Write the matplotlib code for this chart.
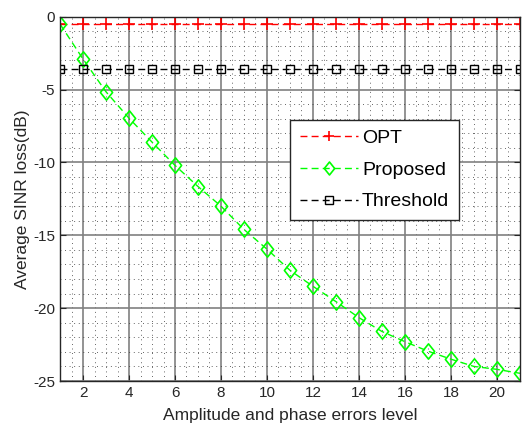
import matplotlib
matplotlib.use("Agg")
import matplotlib.pyplot as plt
from matplotlib.ticker import MultipleLocator, FuncFormatter
from matplotlib.path import Path

plt.rcParams['font.family'] = ['Liberation Sans', 'DejaVu Sans']
plt.rcParams['axes.unicode_minus'] = False

x = list(range(1, 22))
opt = [-0.48] * 21
threshold = [-3.55] * 21
proposed = [-0.5, -2.9, -5.15, -6.96, -8.6, -10.2, -11.65, -13.0, -14.6, -15.95,
            -17.4, -18.5, -19.55, -20.65, -21.6, -22.3, -22.95, -23.5, -24.0, -24.2, -24.47]

xticks = [2, 4, 6, 8, 10, 12, 14, 16, 18, 20]
yticks = [0, -5, -10, -15, -20, -25]

diamond = Path([(0, 1), (0.8, 0), (0, -1), (-0.8, 0), (0, 1)],
               [Path.MOVETO, Path.LINETO, Path.LINETO, Path.LINETO, Path.CLOSEPOLY])

fig = plt.figure(figsize=(5.22, 4.25), dpi=100)
ax = fig.add_axes([0.115, 0.1035, 0.881, 0.857])

ax.plot(x, opt, '--', color='#ff0000', marker='+', markersize=8, markeredgewidth=1.2,
        linewidth=1.0, label='OPT', dashes=(5, 3))
ax.plot(x, proposed, '--', color='#00ff00', marker=diamond, markersize=11, markerfacecolor='none',
        markeredgewidth=1.2, linewidth=1.0, label='Proposed', dashes=(5, 3))
ax.plot(x, threshold, '--', color='black', marker='s', markersize=6, markerfacecolor='none',
        markeredgewidth=1.0, linewidth=1.0, label='Threshold', dashes=(5, 3))

ax.set_xlim(1, 21)
ax.set_ylim(-25, 0)
ax.set_xticks(xticks)
ax.set_yticks(yticks)
ax.xaxis.set_minor_locator(MultipleLocator(0.5))
ax.yaxis.set_minor_locator(MultipleLocator(1))
ax.yaxis.set_major_formatter(FuncFormatter(lambda v, p: '%d' % v))

ax.grid(True, which='major', color='#808080', linestyle='-', linewidth=1.2)
ax.grid(True, which='minor', color='#303030', linestyle=(0, (1, 4.5)), linewidth=0.6)
ax.set_axisbelow(True)

ax.tick_params(which='both', direction='in', top=True, right=True, labelsize=11, colors='#262626')
ax.tick_params(which='minor', length=0)
ax.tick_params(which='major', length=4, labelcolor='#262626')
for s in ax.spines.values():
    s.set_color('#262626')
    s.set_linewidth(1.0)

ax.set_xlabel('Amplitude and phase errors level', fontsize=12.5, color='#262626', labelpad=6)
ax.set_ylabel('Average SINR loss(dB)', fontsize=12.5, color='#262626', labelpad=2)

leg = ax.legend(loc='upper left', bbox_to_anchor=(0.5, 0.717), fontsize=14,
                frameon=True, fancybox=False, edgecolor='#262626', framealpha=1,
                borderaxespad=0, handlelength=3.0, labelspacing=0.72, borderpad=0.5,
                handletextpad=0.2, markerscale=0.85)
leg.get_frame().set_linewidth(1.0)

fig.savefig('out.png', dpi=100)
